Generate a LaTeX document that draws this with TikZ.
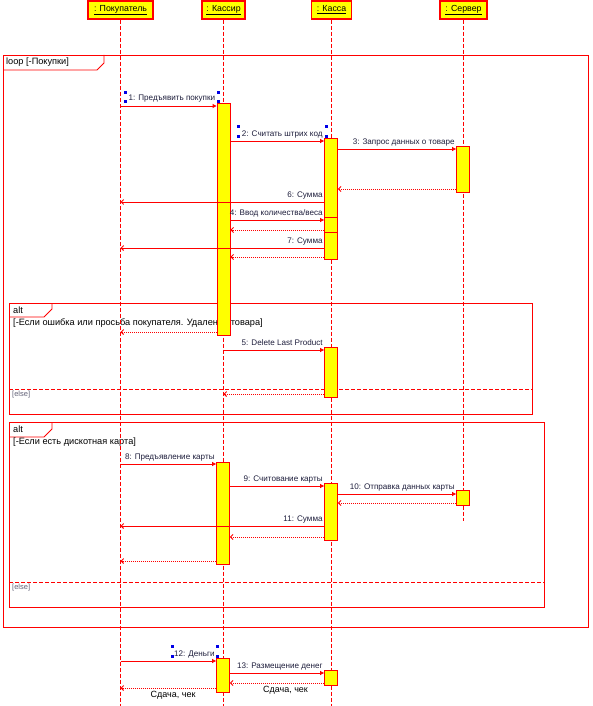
\documentclass[tikz,border=0pt]{standalone}
\usepackage{fontspec}
\setmainfont{Liberation Sans}
\usetikzlibrary{arrows.meta}
\definecolor{umlred}{RGB}{255,0,0}
\definecolor{umlyellow}{RGB}{255,255,0}
\definecolor{umltext}{RGB}{30,30,60}
\definecolor{handleblue}{RGB}{0,0,230}
\tikzset{
  head/.style={draw=umlred, line width=1.2pt, fill=umlyellow, inner sep=0pt,
    minimum height=18pt, text=black, font=\fontsize{8.8}{10}\selectfont},
  life/.style={draw=umlred, line width=0.9pt, dash pattern=on 4pt off 2pt},
  act/.style={draw=umlred, line width=0.9pt, fill=umlyellow, minimum width=13pt,
    anchor=north, inner sep=0pt},
  umlframe/.style={draw=umlred, line width=0.9pt},
  elseline/.style={draw=umlred, line width=0.9pt, dash pattern=on 4pt off 2pt},
  sync/.style={draw=umlred, line width=0.9pt, -{Triangle[length=4pt,width=4pt]}},
  reply/.style={draw=umlred, line width=0.9pt, -{Straight Barb[length=2.5pt,width=5pt]}},
  ret/.style={draw=umlred, line width=0.9pt, dash pattern=on 1pt off 1pt,
    -{Straight Barb[length=2.5pt,width=5pt]}},
  lbl/.style={font=\fontsize{8.1}{9}\selectfont, text=umltext, inner sep=0pt,
    anchor=base east, xshift=-1pt, yshift=5pt},
  guard/.style={font=\fontsize{9.2}{10}\selectfont, text=black, inner sep=0pt, anchor=west},
  elsetxt/.style={font=\fontsize{7.5}{9}\selectfont, text=umltext!70, inner sep=0pt, anchor=west},
  below lbl/.style={font=\fontsize{9}{10}\selectfont, text=black, inner sep=0pt, anchor=north, yshift=-3pt},
  handle/.style={fill=handleblue, draw=none, minimum size=3pt, inner sep=0pt},
}
\begin{document}
\begin{tikzpicture}[x=1pt,y=-1pt]
\useasboundingbox (0,0) rectangle (592,706);
% lifeline heads
\node[head, minimum width=65pt] (hP) at (120.5,10) {\underline{: Покупатель}};
\node[head, minimum width=43pt] (hK) at (223.5,10) {\underline{: Кассир}};
\node[head, minimum width=40pt] (hC) at (331.5,10) {\underline{: Касса}};
\node[head, minimum width=47pt] (hS) at (463.5,10) {\underline{: Сервер}};
\coordinate (eP) at (120.5,706);
\coordinate (eK) at (223.5,706);
\coordinate (eC) at (331.5,706);
\coordinate (eS) at (463.5,521);
% frames
\draw[umlframe] (3,55) rectangle (588,627);
\draw[umlframe] (3,70) -- (97,70) -- (104,63) -- (104,55);
\node[guard] (loopl) at (6,62.5) {loop [-Покупки]};
\draw[umlframe] (9,303) rectangle (532,414);
\draw[umlframe] (9,317) -- (44,317) -- (52,309) -- (52,303);
\node[guard] (alt1) at (13,310) {alt};
\node[guard] (g1) at (13,323.5) {[-Если ошибка или просьба покупателя. Удаление товара]};
\draw[elseline] (9,389) -- (532,389);
\node[elsetxt] (el1) at (12,394.5) {[else]};
\draw[umlframe] (9,422) rectangle (544,607);
\draw[umlframe] (9,437) -- (44,437) -- (52,429) -- (52,422);
\node[guard] (alt2) at (13,429.5) {alt};
\node[guard] (g2) at (13,442.5) {[-Если есть дискотная карта]};
\draw[elseline] (9,582) -- (544,582);
\node[elsetxt] (el2) at (12,587.5) {[else]};
% lifelines
\draw[life] (hP.south) -- (eP);
\draw[life] (hK.south) -- (eK);
\draw[life] (hC.south) -- (eC);
\draw[life] (hS.south) -- (eS);
% activations
\node[act, minimum height=232pt] (a1) at (223.5,103) {};
\node[act, minimum height=121pt] (b1) at (331,138) {};
\draw[draw=umlred, line width=0.9pt] (b1.west |- 0,217) -- (b1.east |- 0,217);
\draw[draw=umlred, line width=0.9pt] (b1.west |- 0,232) -- (b1.east |- 0,232);
\node[act, minimum height=46pt] (s1) at (463,146) {};
\node[act, minimum height=50pt] (b2) at (331,347) {};
\node[act, minimum height=102pt] (a2) at (223,462) {};
\node[act, minimum height=57pt] (b3) at (331,483) {};
\node[act, minimum height=15pt] (s2) at (463,490) {};
\node[act, minimum height=34pt] (a3) at (223,658) {};
\node[act, minimum height=15pt] (b4) at (331,670) {};
% messages in loop
\draw[sync] (hP |- 0,106) -- (a1.west |- 0,106) node[lbl, pos=1] {1: Предъявить покупки};
\draw[sync] (a1.east |- 0,141) -- (b1.west |- 0,141) node[lbl, pos=1] {2: Считать штрих код};
\draw[sync] (b1.east |- 0,149) -- (s1.west |- 0,149) node[lbl, pos=1] {3: Запрос данных о товаре};
\draw[ret] (s1.west |- 0,189) -- (b1.east |- 0,189);
\draw[reply] (b1.west |- 0,202) -- (hP |- 0,202) node[lbl, pos=0] {6: Сумма};
\draw[sync] (a1.east |- 0,220) -- (b1.west |- 0,220) node[lbl, pos=1] {4: Ввод количества/веса};
\draw[ret] (b1.west |- 0,230) -- (a1.east |- 0,230);
\draw[reply] (b1.west |- 0,248) -- (hP |- 0,248) node[lbl, pos=0] {7: Сумма};
\draw[ret] (b1.west |- 0,257) -- (a1.east |- 0,257);
% alt 1
\draw[ret] (a1.west |- 0,332) -- (hP |- 0,332);
\draw[sync] (hK |- 0,350) -- (b2.west |- 0,350) node[lbl, pos=1] {5: Delete Last Product};
\draw[ret] (b2.west |- 0,394) -- (hK |- 0,394);
% alt 2
\draw[sync] (hP |- 0,464) -- (a2.west |- 0,464) node[lbl, pos=1] {8: Предъявление карты};
\draw[sync] (a2.east |- 0,486) -- (b3.west |- 0,486) node[lbl, pos=1] {9: Считование карты};
\draw[sync] (b3.east |- 0,494) -- (s2.west |- 0,494) node[lbl, pos=1] {10: Отправка данных карты};
\draw[ret] (s2.west |- 0,503) -- (b3.east |- 0,503);
\draw[reply] (b3.west |- 0,526) -- (hP |- 0,526) node[lbl, pos=0] {11: Сумма};
\draw[ret] (b3.west |- 0,537) -- (a2.east |- 0,537);
\draw[ret] (a2.west |- 0,561) -- (hP |- 0,561);
% after loop
\draw[sync] (hP |- 0,661) -- (a3.west |- 0,661) node[lbl, pos=1] {12: Деньги};
\draw[sync] (a3.east |- 0,673) -- (b4.west |- 0,673) node[lbl, pos=1] {13: Размещение денег};
\draw[ret] (b4.west |- 0,683) -- (a3.east |- 0,683) node[below lbl, pos=0.41] {Сдача, чек};
\draw[ret] (a3.west |- 0,688) -- (hP |- 0,688) node[below lbl, pos=0.45] {Сдача, чек};
% selection handles
\node[handle] (h1) at (125.5,92.5) {};
\node[handle] (h2) at (125.5,102) {};
\node[handle] (h3) at (218,92.5) {};
\node[handle] (h4) at (218,102) {};
\node[handle] (h5) at (238,126.5) {};
\node[handle] (h6) at (238,136) {};
\node[handle] (h7) at (326.5,126.5) {};
\node[handle] (h8) at (326.5,136) {};
\node[handle] (h9) at (172,646) {};
\node[handle] (h10) at (172,656) {};
\node[handle] (h11) at (217,646) {};
\node[handle] (h12) at (217,656) {};
\end{tikzpicture}
\end{document}
